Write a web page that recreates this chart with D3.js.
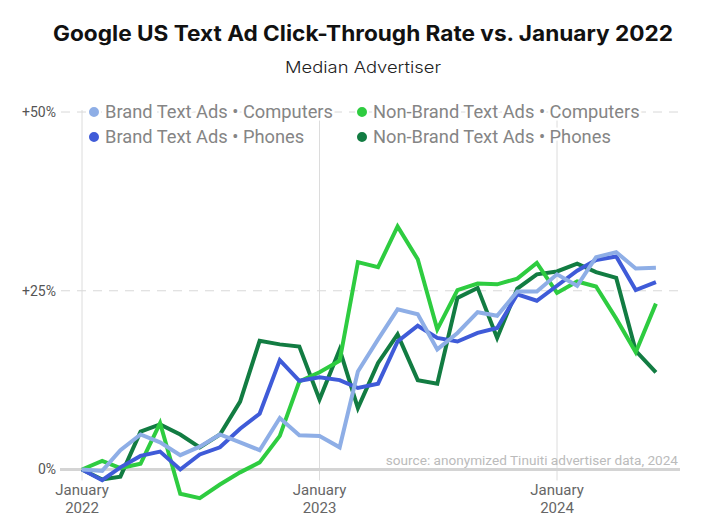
<!DOCTYPE html>
<html>
<head>
<meta charset="utf-8">
<script src="https://cdn.jsdelivr.net/npm/d3@7"></script>
<style>
  body { margin: 0; background: #fff; }
  svg { display: block; }
</style>
</head>
<body>
<div id="chart"></div>
<script>
const w = 708;
const h = 532;

// monthly points, Jan 2022 .. Jun 2024
const months = d3.timeMonth.range(new Date(2022, 0, 1), new Date(2024, 6, 1));

const brandComputers = [0, -0.2, 2.7, 4.9, 3.8, 2.0, 3.2, 4.9, 3.8, 2.7, 7.2, 4.8, 4.7, 3.1, 13.7,
  18.2, 22.4, 21.7, 16.8, 19.1, 22.0, 21.5, 24.9, 24.9, 27.3, 25.7, 29.7, 30.4, 28.1, 28.2];
const brandPhones = [0, -1.5, 0.3, 1.9, 2.5, 0, 2.1, 3.1, 5.7, 7.8, 15.3, 12.4, 12.9, 12.5, 11.4,
  12.0, 17.9, 20.1, 18.4, 17.9, 19.1, 19.8, 24.5, 23.6, 25.7, 27.8, 29.3, 29.8, 25.1, 26.2];
const nonBrandComputers = [0, 1.2, 0.2, 0.8, 6.5, -3.4, -4.0, -2.1, -0.4, 1.0, 4.7, 12.3, 13.6, 15.2, 29.0,
  28.3, 34.0, 29.4, 19.6, 25.1, 26.0, 25.9, 26.7, 28.9, 24.7, 26.3, 25.6, 21.1, 16.4, 23.2];
const nonBrandPhones = [0, -1.4, -1.0, 5.3, 6.3, 4.9, 3.1, 4.9, 9.5, 18.0, 17.5, 17.2, 9.8, 16.8, 8.6,
  14.9, 18.9, 12.5, 12.0, 24.0, 25.4, 18.4, 25.3, 27.3, 27.7, 28.8, 27.6, 26.8, 16.6, 13.6];

const seriesNames = ['Brand Text Ads • Computers', 'Brand Text Ads • Phones',
  'Non-Brand Text Ads • Computers', 'Non-Brand Text Ads • Phones'];
const seriesColors = ['#8eaee6', '#3f5bd8', '#2ecc40', '#127c42'];
const seriesValues = [brandComputers, brandPhones, nonBrandComputers, nonBrandPhones];
// drawing order, last on top
const drawOrder = [3, 2, 1, 0];

const yTicks = [0, 25, 50];
const xTicks = [new Date(2022, 0, 1), new Date(2023, 0, 1), new Date(2024, 0, 1)];

const svg = d3.select('#chart')
  .append('svg')
  .attr('width', w)
  .attr('height', h);

const xScale = d3.scaleTime()
  .domain([new Date(2022, 0, 1), new Date(2024, 0, 1)])
  .range([82, 557]);

const yScale = d3.scaleLinear()
  .domain([0, 50])
  .range([469.5, 112]);

// title
svg.append('text')
  .attr('x', 363)
  .attr('y', 41)
  .attr('text-anchor', 'middle')
  .style('font-family', 'Inter, "Open Sans", sans-serif')
  .style('font-weight', 700)
  .style('font-size', '21px')
  .style('fill', '#111')
  .attr('textLength', 620)
  .attr('lengthAdjust', 'spacingAndGlyphs')
  .text('Google US Text Ad Click-Through Rate vs. January 2022');

svg.append('text')
  .attr('x', 363)
  .attr('y', 73)
  .attr('text-anchor', 'middle')
  .style('font-family', 'Inter, "Open Sans", sans-serif')
  .style('font-weight', 300)
  .style('font-size', '16.5px')
  .style('fill', '#222')
  .attr('textLength', 156)
  .attr('lengthAdjust', 'spacingAndGlyphs')
  .text('Median Advertiser');

// vertical gridlines
svg.append('g')
  .selectAll('line')
  .data(xTicks)
  .enter()
  .append('line')
  .attr('x1', d => xScale(d))
  .attr('x2', d => xScale(d))
  .attr('y1', yScale(50) - 2)
  .attr('y2', yScale(0) + 11)
  .attr('stroke', '#dcdcdc')
  .attr('stroke-width', 1);

// horizontal gridlines
svg.append('g')
  .selectAll('line')
  .data(yTicks.filter(d => d !== 0))
  .enter()
  .append('line')
  .attr('x1', 61)
  .attr('x2', 680)
  .attr('y1', d => yScale(d))
  .attr('y2', d => yScale(d))
  .attr('stroke', '#d8d8d8')
  .attr('stroke-width', 1)
  .attr('stroke-dasharray', '9,7');

svg.append('line')
  .attr('x1', 60)
  .attr('x2', 680)
  .attr('y1', yScale(0))
  .attr('y2', yScale(0))
  .attr('stroke', '#d4d4d4')
  .attr('stroke-width', 3);

// y labels
svg.append('g')
  .selectAll('text')
  .data(yTicks)
  .enter()
  .append('text')
  .attr('x', 56)
  .attr('y', d => yScale(d))
  .attr('dy', '0.35em')
  .attr('text-anchor', 'end')
  .style('font-family', 'Roboto, sans-serif')
  .style('font-size', '14px')
  .style('fill', '#555')
  .text(d => d === 0 ? '0%' : '+' + d + '%');

// x labels
const xLab = svg.append('g')
  .selectAll('text')
  .data(xTicks)
  .enter()
  .append('text')
  .attr('text-anchor', 'middle')
  .style('font-family', 'Roboto, sans-serif')
  .style('font-size', '15px')
  .style('fill', '#666');
xLab.append('tspan')
  .attr('x', d => xScale(d))
  .attr('y', 495)
  .text('January');
xLab.append('tspan')
  .attr('x', d => xScale(d))
  .attr('y', 513)
  .text(d => d.getFullYear());

// source note
svg.append('text')
  .attr('x', 678)
  .attr('y', 465)
  .attr('text-anchor', 'end')
  .style('font-family', 'Roboto, sans-serif')
  .style('font-size', '13.6px')
  .style('fill', '#bbb')
  .text('source: anonymized Tinuiti advertiser data, 2024');

// lines
const line = d3.line()
  .x((d, i) => xScale(months[i]))
  .y(d => yScale(d));

svg.append('g')
  .selectAll('path')
  .data(drawOrder)
  .enter()
  .append('path')
  .attr('d', k => line(seriesValues[k]))
  .attr('fill', 'none')
  .attr('stroke', k => seriesColors[k])
  .attr('stroke-width', 4)
  .attr('stroke-linejoin', 'miter')
  .attr('stroke-linecap', 'butt');

// legend
const legendPos = [[94, 112], [94, 137], [362, 112], [362, 137]];
const legend = svg.append('g')
  .selectAll('g')
  .data(seriesNames)
  .enter()
  .append('g')
  .attr('transform', (d, i) => 'translate(' + legendPos[i][0] + ',' + legendPos[i][1] + ')');

legend.append('text')
  .attr('x', 11)
  .attr('dy', '0.35em')
  .style('font-family', 'Roboto, sans-serif')
  .style('font-size', '18.3px')
  .style('fill', '#858585')
  .style('stroke', '#fff')
  .style('stroke-width', 5)
  .style('paint-order', 'stroke')
  .text(d => d);

legend.append('circle')
  .attr('r', 6)
  .attr('fill', (d, i) => seriesColors[i])
  .attr('stroke', '#fff')
  .attr('stroke-width', 2);
</script>
</body>
</html>
